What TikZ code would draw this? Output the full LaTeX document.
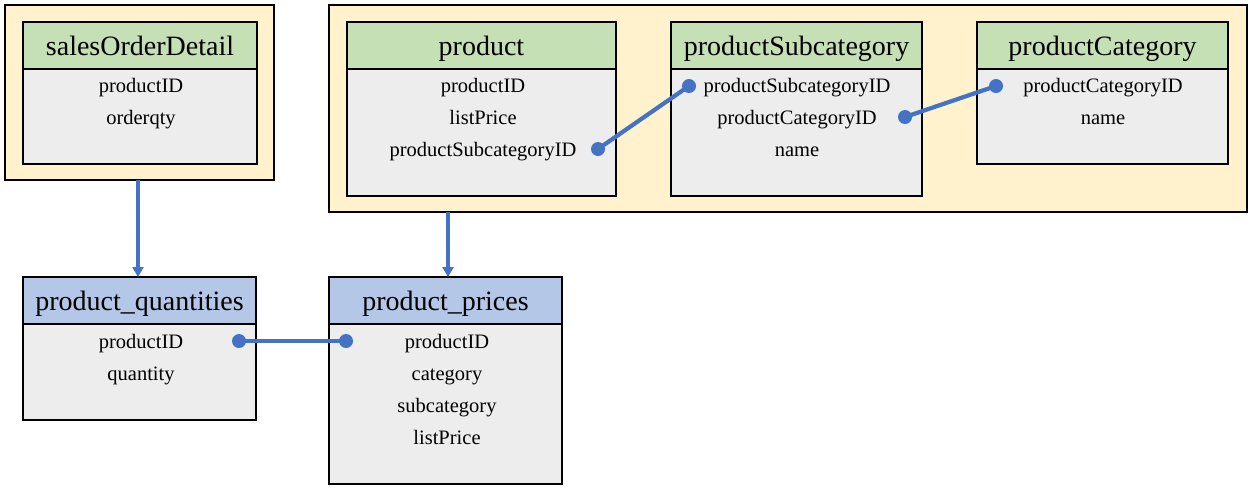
\documentclass[tikz,border=0pt]{standalone}
\usepackage{fontspec}
\setmainfont{Liberation Serif}
\usetikzlibrary{arrows.meta}
\definecolor{grpfill}{HTML}{FFF2CC}
\definecolor{greenhead}{HTML}{C5E0B4}
\definecolor{bluehead}{HTML}{B4C7E7}
\definecolor{bodyfill}{HTML}{EDEDED}
\definecolor{linkblue}{HTML}{4472C4}
\tikzset{
  grp/.style={draw=black, line width=2.2pt, fill=grpfill, anchor=north west, inner sep=0pt, outer sep=0pt},
  headg/.style={draw=black, line width=2.2pt, fill=greenhead, anchor=north west, inner sep=0pt, outer sep=0pt, minimum height=47pt, text height=21pt, text depth=0.5pt, font=\fontsize{28}{30}\selectfont},
  headb/.style={headg, fill=bluehead},
  tbody/.style={draw=black, line width=2.2pt, fill=bodyfill, anchor=north west, inner sep=0pt, outer sep=0pt},
  rowtext/.style={inner sep=0pt, anchor=mid, font=\fontsize{20.5}{22}\selectfont},
  link/.style={draw=linkblue, line width=4.2pt},
  arrowlink/.style={link, -{Triangle[length=10pt,width=11pt]}},
  dot/.style={fill=linkblue}
}
\begin{document}
\begin{tikzpicture}[x=1pt,y=-1pt]
\useasboundingbox (0,0) rectangle (1253,491);
% groups
\node[grp, minimum width=269pt, minimum height=175pt] (g1) at (5,5) {};
\node[grp, minimum width=918pt, minimum height=207pt] (g2) at (329,5) {};
% salesOrderDetail
\node[tbody, minimum width=234pt, minimum height=95pt] (sodB) at (23,69) {};
\node[headg, minimum width=234pt] (sodH) at (23,22) {salesOrderDetail};
\node[rowtext] (sod1) at (141,90) {productID};
\node[rowtext] (sod2) at (141,122) {orderqty};
% product
\node[tbody, minimum width=269pt, minimum height=127pt] (pB) at (347,69) {};
\node[headg, minimum width=269pt] (pH) at (347,22) {product};
\node[rowtext] (p1) at (483,90) {productID};
\node[rowtext] (p2) at (483,122) {listPrice};
\node[rowtext] (p3) at (483,154) {productSubcategoryID};
% productSubcategory
\node[tbody, minimum width=251pt, minimum height=127pt] (sB) at (671,69) {};
\node[headg, minimum width=251pt] (sH) at (671,22) {productSubcategory};
\node[rowtext] (s1) at (797,90) {productSubcategoryID};
\node[rowtext] (s2) at (797,122) {productCategoryID};
\node[rowtext] (s3) at (797,154) {name};
% productCategory
\node[tbody, minimum width=251pt, minimum height=95pt] (cB) at (977,69) {};
\node[headg, minimum width=251pt] (cH) at (977,22) {productCategory};
\node[rowtext] (c1) at (1103,90) {productCategoryID};
\node[rowtext] (c2) at (1103,122) {name};
% product_quantities
\node[tbody, minimum width=233pt, minimum height=96pt] (qB) at (23,324) {};
\node[headb, minimum width=233pt] (qH) at (23,277) {product\_quantities};
\node[rowtext] (q1) at (141,346) {productID};
\node[rowtext] (q2) at (141,378) {quantity};
% product_prices
\node[tbody, minimum width=233pt, minimum height=160pt] (rB) at (329,324) {};
\node[headb, minimum width=233pt] (rH) at (329,277) {product\_prices};
\node[rowtext] (r1) at (447,346) {productID};
\node[rowtext] (r2) at (447,378) {category};
\node[rowtext] (r3) at (447,410) {subcategory};
\node[rowtext] (r4) at (447,442) {listPrice};
% dot coordinates
\coordinate (p3d) at (598,149);
\coordinate (s1d) at (689,86);
\coordinate (s2d) at (905,117);
\coordinate (c1d) at (996,86);
\coordinate (q1d) at (239,341);
\coordinate (r1d) at (346,341);
% links
\draw[link] (p3d) -- (s1d);
\draw[link] (s2d) -- (c1d);
\draw[link] (q1d) -- (r1d);
\foreach \c in {p3d,s1d,s2d,c1d,q1d,r1d} \fill[dot] (\c) circle (7pt);
% arrows
\draw[arrowlink] (g1.south -| 138,0) -- (qH.north -| 138,0);
\draw[arrowlink] (g2.south -| 448,0) -- (rH.north -| 448,0);
\end{tikzpicture}
\end{document}
